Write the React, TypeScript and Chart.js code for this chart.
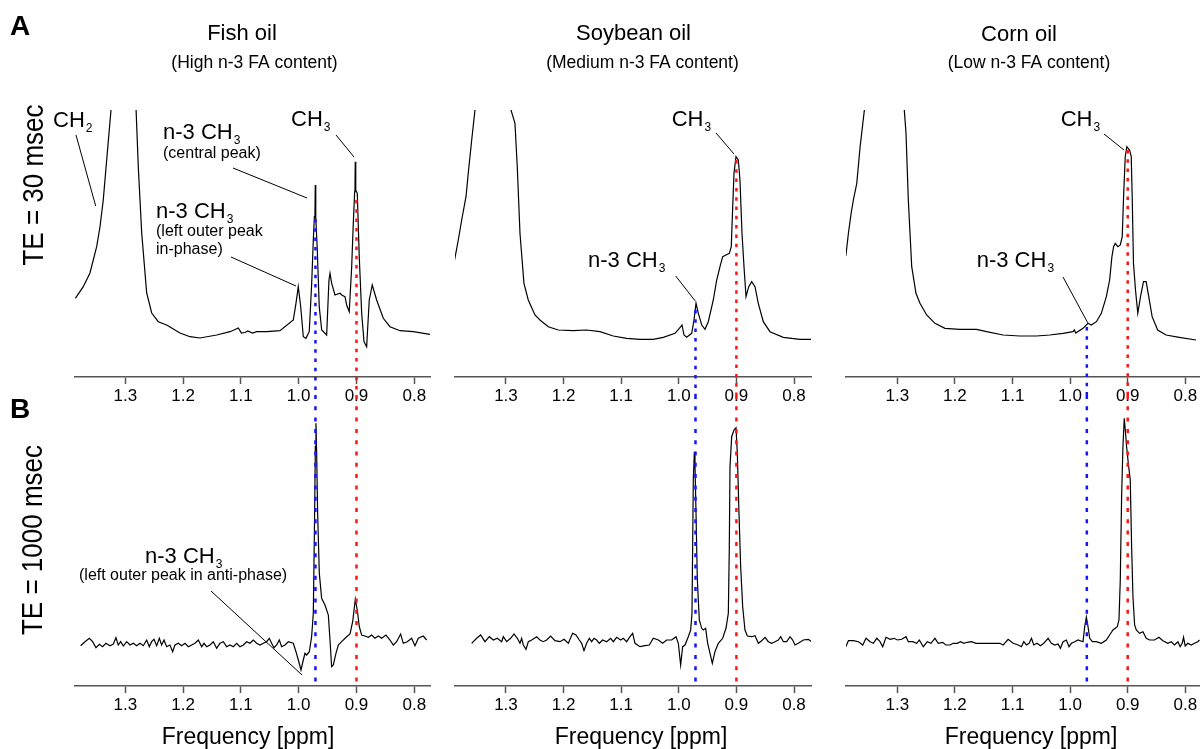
import React, { useEffect, useRef } from 'react';
import { Chart, registerables } from 'chart.js';

Chart.register(...registerables);

const FONT = '"Liberation Sans", Arial, Helvetica, sans-serif';

// ---------- axis ticks & marker positions ----------
const tickValues = [1.3, 1.2, 1.1, 1.0, 0.9, 0.8];
const markerPpm = [0.971, 0.9]; // n-3 CH3 (blue), CH3 (red)
const markerColors = ['rgb(20,20,255)', 'rgb(255,20,20)'];

// ---------- TE = 30 msec spectra (ppm, intensity a.u.) ----------
const fishTE30Ppm = [1.3865, 1.3727, 1.3611, 1.3495, 1.3438, 1.3381, 1.3322, 1.3247, 1.319, 1.305, 1.284, 1.2813, 1.2775, 1.2716, 1.263, 1.2543, 1.2429, 1.2284, 1.2054, 1.1881, 1.1708, 1.1419, 1.1189, 1.112, 1.1045, 1.099, 1.0929, 1.088, 1.08, 1.0727, 1.0554, 1.0324, 1.0093, 1.0047, 1.0007, 0.9965, 0.992, 0.9874, 0.9817, 0.9775, 0.9747, 0.9728, 0.9718, 0.9713, 0.9708, 0.9701, 0.9678, 0.9644, 0.9602, 0.9516, 0.9476, 0.9458, 0.9429, 0.9372, 0.9285, 0.9256, 0.9199, 0.917, 0.9125, 0.9083, 0.9055, 0.9031, 0.9026, 0.9021, 0.9016, 0.9009, 0.8986, 0.8952, 0.891, 0.887, 0.8824, 0.8779, 0.8727, 0.8651, 0.8536, 0.842, 0.8247, 0.8017, 0.7728];
const fishTE30Int = [78.7, 90.3, 104, 130.3, 150, 177, 217, 267, 340, 1800, 340, 267, 210.3, 144, 84, 64, 55.3, 52, 44, 40.3, 39, 42, 45.3, 47, 49, 44, 44.5, 46, 44, 45.3, 45.3, 46.3, 57, 73.7, 90.3, 70.3, 40.3, 38.7, 45.3, 93.7, 137, 160.3, 163, 192, 163, 160, 127, 70.3, 47, 42, 97, 103.7, 93.7, 82, 83.7, 82, 80.3, 72, 65.3, 110.3, 153.7, 185.3, 187, 215.3, 188, 187, 183.7, 120.3, 63.7, 35.3, 30.3, 77, 92, 77, 58.7, 50.3, 46.3, 45.3, 42.7];

const soyTE30Ppm = [1.3903, 1.3828, 1.3769, 1.3694, 1.3655, 1.3595, 1.3538, 1.349, 1.32, 1.2935, 1.2913, 1.2844, 1.2804, 1.2757, 1.2688, 1.2613, 1.2497, 1.241, 1.2266, 1.2092, 1.1832, 1.1599, 1.1368, 1.1137, 1.0905, 1.0674, 1.0443, 1.0269, 1.0066, 0.9991, 0.9944, 0.991, 0.9863, 0.9776, 0.9736, 0.9701, 0.9661, 0.9602, 0.9545, 0.9488, 0.9401, 0.9342, 0.9285, 0.9238, 0.9181, 0.9123, 0.9089, 0.9064, 0.9042, 0.9007, 0.8967, 0.8938, 0.8903, 0.8868, 0.8833, 0.8786, 0.8734, 0.8677, 0.862, 0.8533, 0.8417, 0.8186, 0.7896, 0.7693];
const soyTE30Int = [113.7, 137, 157, 180.3, 203.7, 237, 267, 340, 1800, 340, 267, 253.7, 210.3, 143.7, 93.7, 77, 62, 57, 50.3, 47, 46.3, 47, 45.3, 41, 38.7, 37.7, 37.7, 39.7, 43.7, 48.7, 52, 42, 39.7, 43.7, 57, 73.7, 63.7, 52, 47.7, 55.3, 77, 97, 110.3, 120.3, 122, 123.7, 130.3, 170.3, 203.7, 220.3, 217, 197, 143.7, 110.3, 80.3, 90.3, 95.3, 90.3, 73.7, 55.3, 45.3, 39.7, 37.7, 37.7];

const cornTE30Ppm = [1.3894, 1.3849, 1.3802, 1.3763, 1.3704, 1.3646, 1.3572, 1.352, 1.325, 1.29, 1.2879, 1.2849, 1.2809, 1.275, 1.2676, 1.2607, 1.249, 1.2347, 1.2173, 1.1913, 1.1624, 1.1451, 1.1163, 1.0873, 1.0584, 1.0354, 1.0123, 0.995, 0.9925, 0.9903, 0.9776, 0.9689, 0.9631, 0.9544, 0.9458, 0.9371, 0.9314, 0.9274, 0.9245, 0.9216, 0.9171, 0.9129, 0.9095, 0.9072, 0.9043, 0.9015, 0.8968, 0.8939, 0.8922, 0.89, 0.8865, 0.8825, 0.8778, 0.8726, 0.868, 0.8635, 0.8576, 0.848, 0.8334, 0.8104, 0.7815];
const cornTE30Int = [121, 143.7, 163.7, 177, 193.7, 230.3, 267, 340, 1800, 340, 267, 243.7, 177, 110.3, 83.7, 73.7, 62, 53.7, 48.7, 47.7, 47.7, 45.3, 42, 41, 41, 42, 43.7, 45.3, 47, 44, 48.7, 53.7, 52, 55.3, 63.7, 80.3, 97, 120.3, 130.3, 133.7, 130.3, 132, 140.3, 180.3, 220.3, 230.3, 227, 220.3, 180.3, 113.7, 87, 63.7, 80.3, 95.3, 95.3, 80.3, 60.3, 47, 42, 39.7, 37];

// ---------- TE = 1000 msec spectra ----------
const fishTE1000Ppm = [1.3772, 1.3697, 1.3622, 1.3565, 1.3507, 1.3449, 1.3392, 1.3334, 1.3265, 1.3207, 1.3161, 1.3121, 1.308, 1.3034, 1.2976, 1.2919, 1.2861, 1.2803, 1.2746, 1.2688, 1.263, 1.2584, 1.2544, 1.2503, 1.2457, 1.2411, 1.2371, 1.233, 1.2284, 1.2227, 1.2181, 1.214, 1.2082, 1.2025, 1.1967, 1.1909, 1.1852, 1.1794, 1.1736, 1.1679, 1.1638, 1.1592, 1.1535, 1.1477, 1.1419, 1.1362, 1.1304, 1.1246, 1.1189, 1.1131, 1.1073, 1.1016, 1.0958, 1.09, 1.0843, 1.0785, 1.0727, 1.067, 1.0612, 1.0554, 1.0508, 1.0468, 1.0427, 1.0381, 1.0335, 1.0295, 1.0237, 1.0179, 1.0093, 1.0047, 1.0006, 0.996, 0.992, 0.9891, 0.9862, 0.9816, 0.9776, 0.9747, 0.9724, 0.9712, 0.9701, 0.9689, 0.9672, 0.9643, 0.9603, 0.9545, 0.9487, 0.9458, 0.943, 0.9401, 0.9355, 0.9314, 0.9257, 0.917, 0.9112, 0.9066, 0.902, 0.8986, 0.8951, 0.8911, 0.8853, 0.8795, 0.8738, 0.868, 0.8622, 0.8565, 0.849, 0.842, 0.8363, 0.8305, 0.8236, 0.819, 0.8121, 0.8046, 0.7988, 0.793, 0.7844, 0.7786];
const fishTE1000Int = [40.3, 44.3, 47.7, 44.3, 38.3, 41.7, 39.3, 42.7, 40.3, 42, 48.3, 41, 44.3, 40, 44.3, 41, 42.7, 40.3, 42.7, 40.3, 46, 39.3, 44.3, 46.7, 40.3, 47.7, 41, 46, 39.3, 41, 34.3, 41, 42.7, 40.3, 42.7, 39.3, 41, 42.7, 46, 39.3, 42.7, 39.3, 41, 44.3, 37.7, 42.7, 44.3, 39.3, 41, 39.3, 42.7, 39.3, 41, 44.3, 42.7, 46, 42.7, 41, 42.7, 44.3, 47.7, 42.7, 38.3, 41, 46, 39.3, 41, 44.3, 42.7, 34.3, 26, 16, 26, 32.7, 31, 34.3, 49.3, 72.7, 172.7, 239.3, 262.7, 232.7, 172.7, 112.7, 87.7, 81, 71, 46, 19.3, 21, 32.7, 41, 44.3, 49.3, 52, 64.3, 86.7, 76, 59.3, 51, 50, 48.7, 51, 47.7, 50, 47.7, 51, 46, 41, 44.3, 52, 42.7, 44.3, 47.7, 40.3, 47.7, 50, 46];

const soyTE1000Ppm = [1.3596, 1.3509, 1.344, 1.3365, 1.3289, 1.322, 1.315, 1.3075, 1.3046, 1.2988, 1.2919, 1.2861, 1.2803, 1.2757, 1.2728, 1.2699, 1.2653, 1.2612, 1.2554, 1.2468, 1.241, 1.2352, 1.2294, 1.2225, 1.2149, 1.2062, 1.1993, 1.1918, 1.1843, 1.1785, 1.1727, 1.1686, 1.1646, 1.16, 1.1553, 1.1513, 1.1472, 1.1426, 1.138, 1.1322, 1.1252, 1.1183, 1.1137, 1.1079, 1.1009, 1.0963, 1.0905, 1.0847, 1.0801, 1.076, 1.0674, 1.0587, 1.0512, 1.0442, 1.0355, 1.028, 1.0211, 1.0124, 1.0049, 1.0008, 0.9968, 0.9933, 0.9892, 0.9835, 0.9794, 0.9771, 0.9748, 0.973, 0.9719, 0.9701, 0.9678, 0.9644, 0.9603, 0.9574, 0.9534, 0.9499, 0.9458, 0.9418, 0.9372, 0.9314, 0.9238, 0.9181, 0.914, 0.9123, 0.9111, 0.9082, 0.9042, 0.9007, 0.8984, 0.8955, 0.8926, 0.8891, 0.8851, 0.881, 0.8735, 0.8677, 0.8619, 0.8561, 0.8503, 0.8446, 0.8388, 0.833, 0.8272, 0.8231, 0.8185, 0.8127, 0.8069, 0.8023, 0.7983, 0.7925, 0.7838, 0.7751, 0.7693];
const soyTE1000Int = [42.7, 47.7, 51, 44.3, 49.3, 46, 47.7, 44.3, 49.3, 44.3, 47.7, 52, 47.7, 42.7, 47.7, 41, 36.7, 44.3, 46, 49.3, 46, 44.3, 46, 50, 45.3, 44.3, 46.7, 42.7, 52.7, 51, 46, 42.7, 35.3, 42.7, 47.7, 44.3, 47.7, 46, 42.7, 46, 44.3, 47.7, 44.3, 48.7, 46, 47.7, 44.3, 49.3, 52.7, 42.7, 39.3, 40.3, 41, 47.7, 46, 42.7, 46, 46, 49.3, 42.7, 21, 39.3, 41, 49.3, 56, 72.7, 206, 234.3, 221, 172.7, 106, 66, 57.7, 56, 57.7, 42.7, 32.7, 22.7, 34.3, 42.7, 47.7, 57.7, 72.7, 139.3, 219.3, 249.3, 256, 258.3, 232.7, 172.7, 119.3, 79.3, 56, 50, 49.3, 50.3, 42.7, 45.3, 48.7, 44.3, 42.7, 44.3, 46, 49.3, 44.3, 44.3, 49.3, 46, 41, 42.7, 46, 46.7, 44.3];

const cornTE1000Ppm = [1.3895, 1.3849, 1.3762, 1.3675, 1.36, 1.3543, 1.3473, 1.3415, 1.3358, 1.33, 1.3254, 1.3196, 1.3126, 1.3057, 1.2999, 1.2924, 1.2849, 1.2809, 1.2734, 1.2664, 1.2618, 1.2549, 1.2479, 1.2416, 1.2347, 1.2289, 1.2214, 1.2156, 1.2087, 1.2029, 1.196, 1.1902, 1.1844, 1.1786, 1.1711, 1.1636, 1.1567, 1.148, 1.1393, 1.1307, 1.122, 1.1162, 1.1076, 1.0989, 1.0902, 1.0845, 1.0804, 1.0758, 1.0712, 1.0671, 1.0631, 1.0573, 1.0515, 1.0458, 1.0382, 1.0325, 1.0267, 1.0209, 1.0169, 1.0122, 1.0065, 1.0019, 0.9978, 0.992, 0.9863, 0.9776, 0.9747, 0.9718, 0.9689, 0.966, 0.9614, 0.9545, 0.9458, 0.9371, 0.9314, 0.9256, 0.9181, 0.9152, 0.9129, 0.9106, 0.9083, 0.906, 0.9042, 0.9019, 0.899, 0.8956, 0.8932, 0.8909, 0.888, 0.8851, 0.8794, 0.8736, 0.8678, 0.862, 0.8534, 0.8459, 0.8389, 0.8303, 0.8245, 0.8187, 0.8129, 0.8089, 0.8054, 0.8031, 0.8002, 0.7956, 0.7898, 0.784, 0.7783, 0.7754];
const cornTE1000Int = [39.3, 45.3, 45.3, 44.3, 41, 47.7, 44.3, 42.7, 47.7, 44.3, 39.3, 48.7, 46.7, 47.7, 46, 46.7, 49.3, 44.3, 44.3, 42.7, 46, 39.3, 44.3, 42.7, 47.7, 42.7, 43.7, 41, 41, 42.7, 42.7, 44.3, 42.7, 43.7, 44.3, 42.7, 42.7, 42.7, 42.7, 42.7, 42.7, 41, 46.7, 42.7, 41, 39.3, 44.3, 41, 42.7, 47.7, 41, 42.7, 40.3, 42.7, 47.7, 42.7, 41, 42, 37.7, 44.3, 46, 39.3, 42.7, 44.3, 46, 44.3, 59.3, 68.7, 59.3, 47.7, 44.3, 44.3, 42.7, 46, 51, 56, 59.3, 66, 106, 189.3, 239.3, 267.7, 256, 239.3, 222.7, 206, 139.3, 89.3, 61, 56, 52.7, 54.3, 47.7, 46, 46, 48.7, 45.3, 42.7, 44.3, 41, 44.3, 39.3, 42.7, 48.7, 40, 42.7, 41, 42.7, 44.3, 46];

// dashed marker start (intensity at the peak) for TE = 30 msec panels [blue, red]
const fishMarkerStart = [158, 177];
const soyMarkerStart = [67, 217];
const cornMarkerStart = [50, 227];

// ---------- layout / decorations ----------
type TextItem = {
  t: string; x: number; y: number; size: number;
  bold?: boolean; align?: CanvasTextAlign; rotate?: boolean; sub?: string; stretch?: number;
};
type Panel = {
  left: number; top: number; w: number; h: number;
  pad: { left: number; right: number; top: number; bottom: number };
  axisH: number; xMin: number; xMax: number; yMax: number;
  ppm: number[]; val: number[];
  markerStart: number[] | null; splitY: number; dash: number[];
  texts: TextItem[]; lines: number[][];
};

const SPLIT = 395;

const panels: Panel[] = [
  {
    left: 0, top: 0, w: 440, h: 407, pad: { left: 75, right: 10, top: 110, bottom: 0 }, axisH: 30,
    xMin: 0.7728, xMax: 1.387, yMax: 267, ppm: fishTE30Ppm, val: fishTE30Int,
    markerStart: fishMarkerStart, splitY: SPLIT, dash: [3.5, 5.8],
    texts: [
      { t: 'A', x: 10, y: 35, size: 28, bold: true },
      { t: 'TE = 30 msec', x: 43, y: 185, size: 26, rotate: true, align: 'center', stretch: 1.15 },
      { t: 'Fish oil', x: 242, y: 40, size: 22, align: 'center' },
      { t: '(High n-3 FA content)', x: 254.5, y: 68, size: 17.5, align: 'center' },
      { t: 'CH', sub: '2', x: 53, y: 127, size: 22 },
      { t: 'CH', sub: '3', x: 291, y: 126, size: 22 },
      { t: 'n-3 CH', sub: '3', x: 163, y: 139, size: 22 },
      { t: '(central peak)', x: 163, y: 158, size: 16 },
      { t: 'n-3 CH', sub: '3', x: 156, y: 218, size: 22 },
      { t: '(left outer peak', x: 156, y: 236, size: 16 },
      { t: 'in-phase)', x: 156, y: 254, size: 16 },
    ],
    lines: [[76, 135, 95.7, 206], [336, 135, 354, 157], [233, 168, 307, 198], [231, 257, 296, 286]],
  },
  {
    left: 440, top: 0, w: 380, h: 407, pad: { left: 15, right: 9, top: 110, bottom: 0 }, axisH: 30,
    xMin: 0.7705, xMax: 1.3885, yMax: 267, ppm: soyTE30Ppm, val: soyTE30Int,
    markerStart: soyMarkerStart, splitY: SPLIT, dash: [3.5, 5.8],
    texts: [
      { t: 'Soybean oil', x: 633.5, y: 40, size: 22, align: 'center' },
      { t: '(Medium n-3 FA content)', x: 642.5, y: 68, size: 17.5, align: 'center' },
      { t: 'CH', sub: '3', x: 671.7, y: 126, size: 22 },
      { t: 'n-3 CH', sub: '3', x: 588, y: 267, size: 22 },
    ],
    lines: [[716, 133, 734, 154], [675.7, 276, 695, 300.7]],
  },
  {
    left: 820, top: 0, w: 380, h: 407, pad: { left: 26, right: 0, top: 110, bottom: 0 }, axisH: 30,
    xMin: 0.7745, xMax: 1.3891, yMax: 267, ppm: cornTE30Ppm, val: cornTE30Int,
    markerStart: cornMarkerStart, splitY: SPLIT, dash: [3.5, 5.8],
    texts: [
      { t: 'Corn oil', x: 1019, y: 41, size: 22, align: 'center' },
      { t: '(Low n-3 FA content)', x: 1029, y: 68, size: 17.5, align: 'center' },
      { t: 'CH', sub: '3', x: 1060.7, y: 126, size: 22 },
      { t: 'n-3 CH', sub: '3', x: 976.7, y: 267, size: 22 },
    ],
    lines: [[1104, 134, 1124, 150], [1063, 277, 1087.7, 322.7]],
  },
  {
    left: 0, top: SPLIT, w: 440, h: 354, pad: { left: 75, right: 10, top: 15, bottom: 0 }, axisH: 63,
    xMin: 0.7728, xMax: 1.387, yMax: 276, ppm: fishTE1000Ppm, val: fishTE1000Int,
    markerStart: null, splitY: SPLIT, dash: [4, 7.3],
    texts: [
      { t: 'B', x: 10, y: 418, size: 28, bold: true },
      { t: 'TE = 1000 msec', x: 42, y: 540, size: 26, rotate: true, align: 'center', stretch: 1.15 },
      { t: 'n-3 CH', sub: '3', x: 145, y: 563, size: 22 },
      { t: '(left outer peak in anti-phase)', x: 79, y: 580, size: 16 },
      { t: 'Frequency [ppm]', x: 248, y: 744, size: 23, align: 'center' },
    ],
    lines: [[211, 591, 302, 675]],
  },
  {
    left: 440, top: SPLIT, w: 380, h: 354, pad: { left: 15, right: 9, top: 15, bottom: 0 }, axisH: 63,
    xMin: 0.7705, xMax: 1.3885, yMax: 276, ppm: soyTE1000Ppm, val: soyTE1000Int,
    markerStart: null, splitY: SPLIT, dash: [4, 7.3],
    texts: [{ t: 'Frequency [ppm]', x: 641, y: 744, size: 23, align: 'center' }],
    lines: [],
  },
  {
    left: 820, top: SPLIT, w: 380, h: 354, pad: { left: 26, right: 0, top: 15, bottom: 0 }, axisH: 63,
    xMin: 0.7745, xMax: 1.3891, yMax: 276, ppm: cornTE1000Ppm, val: cornTE1000Int,
    markerStart: null, splitY: SPLIT, dash: [4, 7.3],
    texts: [{ t: 'Frequency [ppm]', x: 1031, y: 744, size: 23, align: 'center' }],
    lines: [],
  },
];

function decorPlugin(p: Panel) {
  return {
    id: 'decor',
    afterDraw(chart: any) {
      const ctx: CanvasRenderingContext2D = chart.ctx;
      const xs = chart.scales.x;
      const ys = chart.scales.y;
      const area = chart.chartArea;
      ctx.save();
      // dashed marker lines
      markerPpm.forEach((ppm, i) => {
        const x = xs.getPixelForValue(ppm);
        let y0: number, y1: number;
        if (p.markerStart) {
          y0 = ys.getPixelForValue(p.markerStart[i]);
          y1 = p.splitY - p.top;
        } else {
          y0 = 0;
          y1 = area.bottom;
        }
        ctx.beginPath();
        ctx.setLineDash(p.dash);
        ctx.strokeStyle = markerColors[i];
        ctx.lineWidth = 2.5;
        ctx.moveTo(x, y0);
        ctx.lineTo(x, y1);
        ctx.stroke();
      });
      ctx.setLineDash([]);
      // leader lines
      ctx.strokeStyle = '#000';
      ctx.lineWidth = 1;
      p.lines.forEach(([x1, y1, x2, y2]) => {
        ctx.beginPath();
        ctx.moveTo(x1 - p.left, y1 - p.top);
        ctx.lineTo(x2 - p.left, y2 - p.top);
        ctx.stroke();
      });
      // texts
      ctx.fillStyle = '#000';
      ctx.textBaseline = 'alphabetic';
      p.texts.forEach((it) => {
        ctx.save();
        ctx.font = `${it.bold ? 'bold ' : ''}${it.size}px ${FONT}`;
        ctx.textAlign = it.align || 'left';
        ctx.translate(it.x - p.left, it.y - p.top);
        if (it.rotate) ctx.rotate(-Math.PI / 2);
        if (it.stretch) ctx.scale(1, it.stretch);
        ctx.fillText(it.t, 0, 0);
        if (it.sub) {
          const w = ctx.measureText(it.t).width;
          ctx.font = `12px ${FONT}`;
          ctx.textAlign = 'left';
          ctx.fillText(it.sub, w + 1, 5);
        }
        ctx.restore();
      });
      ctx.restore();
    },
  };
}

function buildConfig(p: Panel): any {
  return {
    type: 'line',
    data: {
      datasets: [
        {
          data: p.ppm.map((x, k) => ({ x, y: p.val[k] })),
          borderColor: '#000',
          borderWidth: 1.2,
          pointRadius: 0,
          tension: 0,
          fill: false,
        },
      ],
    },
    options: {
      animation: false,
      responsive: false,
      devicePixelRatio: 1,
      layout: { padding: p.pad, autoPadding: false },
      plugins: { legend: { display: false }, tooltip: { enabled: false }, title: { display: false } },
      scales: {
        x: {
          type: 'linear',
          reverse: true,
          min: p.xMin,
          max: p.xMax,
          afterBuildTicks: (s: any) => {
            s.ticks = tickValues.map((v) => ({ value: v }));
          },
          afterFit: (s: any) => {
            s.height = p.axisH;
          },
          grid: { display: true, drawOnChartArea: false, drawTicks: true, tickLength: 7, tickColor: '#555', tickWidth: 1.5 },
          border: { display: true, color: '#555', width: 1.5 },
          ticks: {
            font: { family: FONT, size: 17 },
            color: '#000',
            padding: 2,
            maxRotation: 0,
            autoSkip: false,
            callback: (v: any) => Number(v).toFixed(1),
          },
        },
        y: { display: false, min: 0, max: p.yMax },
      },
    },
    plugins: [decorPlugin(p)],
  };
}

export default function App() {
  const refs = useRef<(HTMLCanvasElement | null)[]>([]);
  useEffect(() => {
    const charts = panels.map((p, i) => new Chart(refs.current[i] as HTMLCanvasElement, buildConfig(p)));
    return () => charts.forEach((c) => c.destroy());
  }, []);
  return (
    <div style={{ position: 'absolute', left: 0, top: 0, width: 1200, height: 749, overflow: 'hidden', background: '#fff' }}>
      {panels.map((p, i) => (
        <canvas
          key={i}
          ref={(el) => {
            refs.current[i] = el;
          }}
          width={p.w}
          height={p.h}
          style={{ position: 'absolute', left: p.left, top: p.top, width: p.w, height: p.h }}
        />
      ))}
    </div>
  );
}
